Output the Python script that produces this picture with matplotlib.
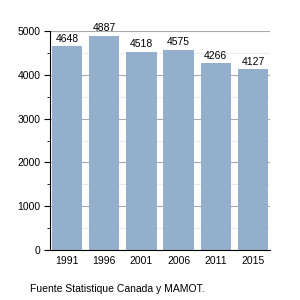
import matplotlib
matplotlib.use("Agg")
import matplotlib.pyplot as plt
from matplotlib.ticker import MultipleLocator

years = ["1991", "1996", "2001", "2006", "2011", "2015"]
values = [4648, 4887, 4518, 4575, 4266, 4127]
source = "Fuente Statistique Canada y MAMOT."

plt.rcParams['font.family'] = ['Liberation Sans', 'DejaVu Sans']

fig = plt.figure(figsize=(3, 3), dpi=100)
ax = fig.add_axes([50/300, 50/300, 220/300, 219/300])

ax.set_ylim(0, 5000)
ax.set_xlim(-0.46, 5.46)
ax.yaxis.set_major_locator(MultipleLocator(1000))
ax.yaxis.set_minor_locator(MultipleLocator(500))
ax.grid(axis='y', which='major', color='#a8a8a8', linewidth=0.8)
ax.grid(axis='y', which='minor', color='#e6e6e6', linewidth=0.6)
ax.set_axisbelow(True)

x = list(range(len(years)))
bars = ax.bar(x, values, width=0.82, color='#93afcb', zorder=2)
for xi, v in zip(x, values):
    ax.text(xi, v + 60, str(v), ha='center', va='bottom', fontsize=7.5)

ax.set_xticks(x)
ax.set_xticklabels(years, fontsize=7.5)
ax.tick_params(axis='x', length=0, pad=4)
ax.tick_params(axis='y', which='major', length=4, labelsize=7.5, pad=3, direction='out')
ax.tick_params(axis='y', which='minor', length=2.5)
for s in ['top', 'right']:
    ax.spines[s].set_visible(False)
ax.spines['left'].set_color('black')
ax.spines['bottom'].set_color('black')

fig.text(30/300, 1 - 289/300, source, fontsize=7.5, va='center', ha='left')

fig.savefig("out.png", dpi=100)
